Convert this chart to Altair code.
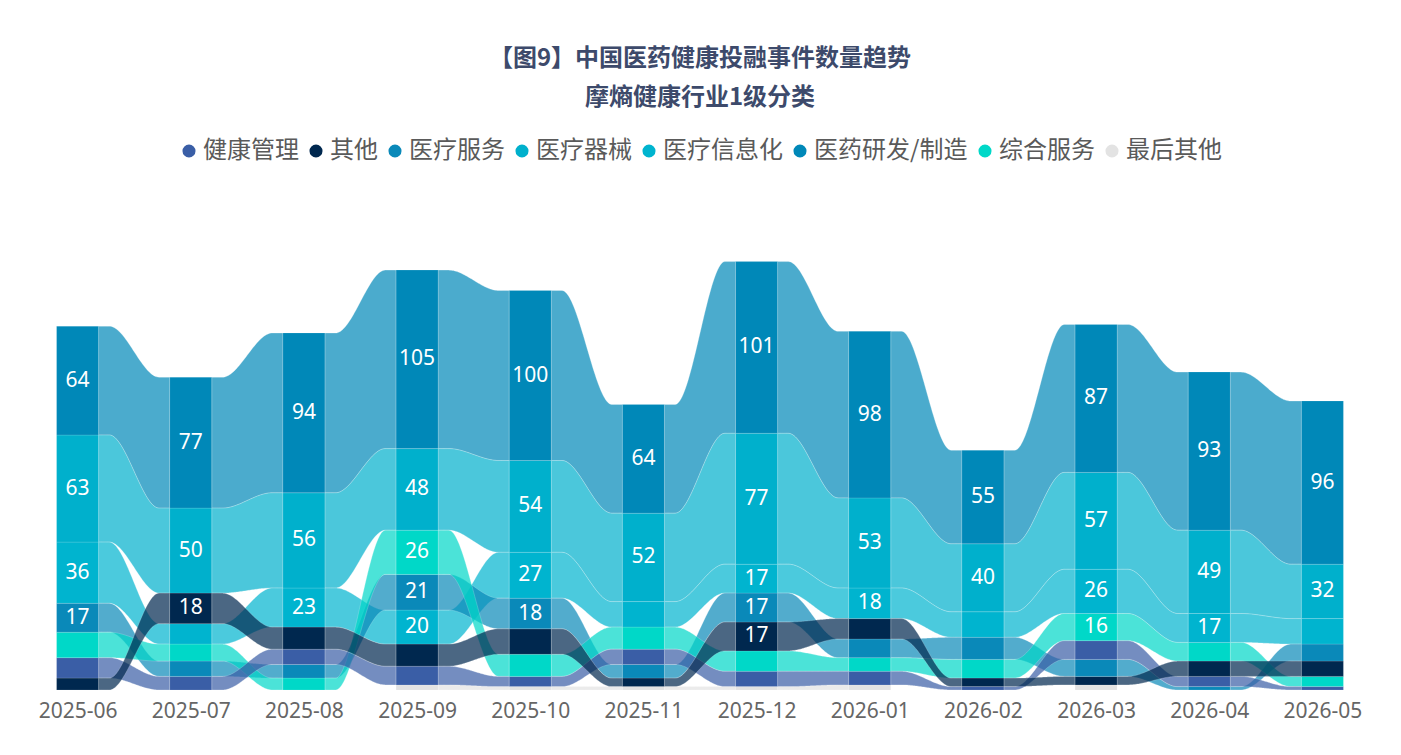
import altair as alt
import pandas as pd
import numpy as np

# ---- data -------------------------------------------------------------
months = ["2025-06", "2025-07", "2025-08", "2025-09", "2025-10", "2025-11",
          "2025-12", "2026-01", "2026-02", "2026-03", "2026-04", "2026-05"]

categories = ["健康管理", "其他", "医疗服务", "医疗器械", "医疗信息化",
              "医药研发/制造", "综合服务", "最后其他"]
palette = ["#3a5ea6", "#00284f", "#0a89b9", "#00b0cc", "#00b4cf",
           "#0088b8", "#00d8c8", "#e3e3e3"]

health_mgmt = [12, 8, 9, 11, 6, 9, 9, 8, 2, 11, 6, 2]
other = [7, 18, 13, 13, 15, 5, 17, 12, 5, 5, 9, 9]
med_service = [17, 9, 8, 21, 18, 8, 17, 11, 13, 10, 2, 10]
med_device = [63, 50, 56, 48, 54, 52, 77, 53, 40, 57, 49, 32]
med_it = [36, 12, 23, 20, 27, 15, 17, 18, 15, 26, 17, 15]
pharma_rd = [64, 77, 94, 105, 100, 64, 101, 98, 55, 87, 93, 96]
integrated = [15, 10, 7, 26, 13, 13, 12, 8, 11, 16, 11, 6]
last_other = [0, 0, 0, 3, 2, 2, 2, 3, 0, 3, 0, 0]

series = {
    "健康管理": health_mgmt,
    "其他": other,
    "医疗服务": med_service,
    "医疗器械": med_device,
    "医疗信息化": med_it,
    "医药研发/制造": pharma_rd,
    "综合服务": integrated,
    "最后其他": last_other,
}

# order used to break ties inside a column (earlier = higher in the stack)
tie_rank = ["医药研发/制造", "医疗器械", "医疗信息化", "医疗服务",
            "综合服务", "其他", "健康管理", "最后其他"]

HALF_BAR = 0.1855  # half bar width, in month units

# ---- stack each month: largest value on top ------------------------------
seg_rows = []
pos = {}
for i, m in enumerate(months):
    items = [(c, series[c][i]) for c in categories if series[c][i] > 0]
    items.sort(key=lambda t: (t[1], -tie_rank.index(t[0])))
    base = 0
    for c, v in items:
        seg_rows.append({"cat": c, "month": m, "idx": i, "v": v,
                         "x0": i - HALF_BAR, "x1": i + HALF_BAR,
                         "y0": base, "y1": base + v, "mid": base + v / 2})
        pos[(c, i)] = (base, base + v)
        base += v
segs = pd.DataFrame(seg_rows)

# ---- ribbons between neighbouring columns ---------------------------------
draw_order = ["最后其他", "医药研发/制造", "医疗器械", "医疗信息化", "医疗服务",
              "综合服务", "健康管理", "其他"]
rib_rows = []
steps = np.linspace(0, 1, 61)
for c in draw_order:
    for i in range(len(months) - 1):
        if (c, i) not in pos or (c, i + 1) not in pos:
            continue
        a0, a1 = pos[(c, i)]
        b0, b1 = pos[(c, i + 1)]
        xa, xb = i + HALF_BAR, i + 1 - HALF_BAR
        for s in steps:
            u = min(max((s - 0.15) / 0.70, 0.0), 1.0)
            e = u * u * (3 - 2 * u)
            rib_rows.append({"cat": c, "rid": f"{c}-{i}",
                             "x": xa + (xb - xa) * s,
                             "lo": a0 + (b0 - a0) * e,
                             "hi": a1 + (b1 - a1) * e})
ribs = pd.DataFrame(rib_rows)

# ---- chart ----------------------------------------------------------------
color_scale = alt.Scale(domain=categories, range=palette)
x_scale = alt.Scale(domain=[-0.5, len(months) - 0.5], nice=False, zero=False)
y_scale = alt.Scale(domain=[0, 270], nice=False)

legend = alt.Legend(
    title=None, orient="none", direction="horizontal",
    legendX=156, legendY=-92, symbolType="circle", symbolSize=170,
    symbolOpacity=1, symbolStrokeWidth=0,
    labelFont="Noto Sans CJK SC", labelFontSize=24, labelColor="#5a5a5a",
    labelOffset=2, columnPadding=5, labelLimit=400)

month_array = "[" + ",".join(f"'{m}'" for m in months) + "]"
x_axis = alt.Axis(values=list(range(len(months))), labelExpr=f"{month_array}[datum.value]",
                  domain=False, ticks=False, grid=False, title=None,
                  labelFontSize=21, labelColor="#666666", labelFont="Noto Sans",
                  labelPadding=10, labelFlush=False, labelOverlap=False)

ribbon_layer = alt.Chart(ribs).mark_area(
    opacity=0.7, interpolate="linear", stroke="white",
    strokeWidth=0.6, strokeOpacity=0.45
).encode(
    x=alt.X("x:Q", scale=x_scale, axis=x_axis),
    y=alt.Y("lo:Q", scale=y_scale, axis=None, stack=None),
    y2="hi:Q",
    color=alt.Color("cat:N", scale=color_scale, legend=legend),
    detail="rid:N",
)

bar_layer = alt.Chart(segs).mark_rect(stroke="white", strokeWidth=0.4, strokeOpacity=0.35).encode(
    x=alt.X("x0:Q", scale=x_scale, axis=x_axis),
    x2="x1:Q",
    y=alt.Y("y0:Q", scale=y_scale, axis=None),
    y2="y1:Q",
    color=alt.Color("cat:N", scale=color_scale, legend=legend),
)

label_layer = alt.Chart(segs).transform_filter("datum.v >= 16").mark_text(
    color="white", fontSize=21, font="Noto Sans", baseline="middle", align="center"
).encode(
    x=alt.X("idx:Q", scale=x_scale, axis=x_axis),
    y=alt.Y("mid:Q", scale=y_scale, axis=None),
    text="v:Q",
)

chart = alt.layer(ribbon_layer, bar_layer, label_layer).properties(
    width=1358, height=459,
    padding={"left": 21, "top": 231, "right": 22, "bottom": 60},
    autosize="none",
    background="white",
    title=alt.Title(
        text="【图9】中国医药健康投融事件数量趋势",
        subtitle="摩熵健康行业1级分类",
        fontSize=24, subtitleFontSize=24,
        fontWeight="bold", subtitleFontWeight="bold",
        font="Noto Sans CJK SC", subtitleFont="Noto Sans CJK SC",
        color="#3d4a6b", subtitleColor="#3d4a6b",
        anchor="middle", subtitlePadding=15, offset=29,
    ),
).configure_view(stroke=None)

chart.save("out.html", embed_options={"renderer": "svg", "actions": False})
